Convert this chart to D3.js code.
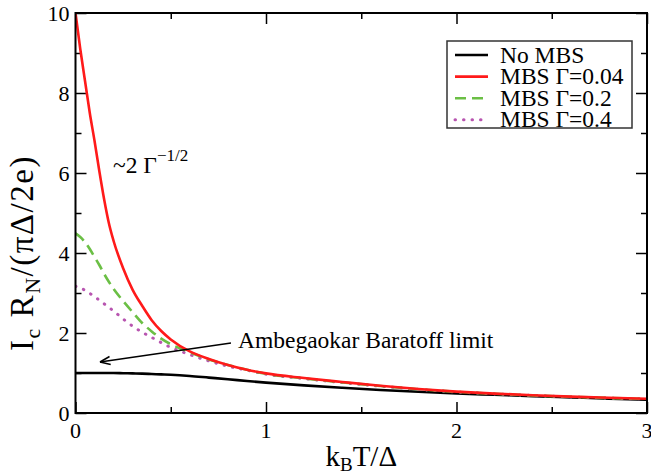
<!DOCTYPE html>
<html>
<head>
<meta charset="utf-8">
<script src="https://cdnjs.cloudflare.com/ajax/libs/d3/7.8.5/d3.min.js"></script>
<style>
body { margin: 0; background: #fff; }
svg { display: block; }
svg text { font-family: 'Liberation Serif', 'DejaVu Serif', serif; fill: #000; }
.tickLabel { font-size: 22px; }
.axisTitle { font-size: 29px; }
.legendText { font-size: 23.5px; }
.note { font-size: 23.5px; }
</style>
</head>
<body>
<div id="chart"></div>
<script>
// temperature grid k_B T / Delta
var kT = [0, 0.025, 0.05, 0.075, 0.1, 0.125, 0.15, 0.175, 0.2, 0.25, 0.3, 0.35, 0.4, 0.45, 0.5,
	0.6, 0.7, 0.8, 0.9, 1.0, 1.2, 1.4, 1.6, 1.8, 2.0, 2.2, 2.4, 2.6, 2.8, 3.0];

var noMBS = [1.0, 1.0, 1.0, 1.0, 1.0, 1.0, 1.0, 1.0, 1.0, 0.995, 0.99, 0.985, 0.975, 0.965, 0.955,
	0.925, 0.885, 0.845, 0.80, 0.76, 0.69, 0.63, 0.575, 0.53, 0.49, 0.455, 0.42, 0.39, 0.36, 0.335];

var mbs004 = [10.0, 9.1, 8.3, 7.5, 6.8, 6.05, 5.35, 4.75, 4.3, 3.62, 3.08, 2.68, 2.32, 2.05, 1.84,
	1.54, 1.35, 1.2, 1.08, 0.99, 0.875, 0.775, 0.68, 0.60, 0.535, 0.485, 0.445, 0.41, 0.38, 0.357];

var mbs02 = [4.49, 4.4, 4.27, 4.1, 3.9, 3.7, 3.48, 3.28, 3.1, 2.8, 2.52, 2.25, 2.04, 1.86, 1.72,
	1.52, 1.34, 1.2, 1.08, 0.98, 0.865, 0.765, 0.675, 0.595, 0.53, 0.48, 0.44, 0.405, 0.375, 0.352];

var mbs04 = [3.17, 3.12, 3.07, 2.99, 2.91, 2.82, 2.73, 2.64, 2.55, 2.35, 2.17, 2.02, 1.89, 1.76, 1.64,
	1.46, 1.3, 1.17, 1.07, 0.97, 0.86, 0.76, 0.67, 0.59, 0.527, 0.478, 0.438, 0.403, 0.373, 0.35];

var seriesNames = ["No MBS", "MBS \u0393=0.04", "MBS \u0393=0.2", "MBS \u0393=0.4"];
var seriesColors = ["#000000", "#ff1a1a", "#6bbf45", "#b855b0"];
var seriesDash = [null, null, "11,6", "0.5,8"];
var seriesValues = [noMBS, mbs004, mbs02, mbs04];

var xMajor = [0, 1, 2, 3];
var xMinor = [0.5, 1.5, 2.5];
var yMajor = [0, 2, 4, 6, 8, 10];
var yMinor = [1, 3, 5, 7, 9];

var dims = {top: 13, right: 4, bottom: 61, left: 75.5},
	width = 651 - dims.left - dims.right,
	height = 474 - dims.top - dims.bottom;

var svg = d3.select("#chart").append("svg")
	.attr("width", 651)
	.attr("height", 474)
	.append("g")
	.attr("transform", "translate(" + dims.left + "," + dims.top + ")");

var x = d3.scaleLinear().domain([0, 3]).range([0, width]);
var y = d3.scaleLinear().domain([0, 10]).range([height, 0]);

// ticks, pointing inward on all four sides
function tickSet(axisFn, scale, values, size){
	return axisFn(scale).tickValues(values).tickSizeInner(-size).tickSizeOuter(0).tickFormat("");
}
function styleAxis(g){
	g.select(".domain").remove();
	g.selectAll(".tick line").attr("stroke", "#000").attr("stroke-width", 1.5);
}
svg.append("g").attr("transform", "translate(0," + height + ")")
	.call(tickSet(d3.axisBottom, x, xMajor, 11)).call(styleAxis);
svg.append("g").attr("transform", "translate(0," + height + ")")
	.call(tickSet(d3.axisBottom, x, xMinor, 6)).call(styleAxis);
svg.append("g").call(tickSet(d3.axisTop, x, xMajor, 11)).call(styleAxis);
svg.append("g").call(tickSet(d3.axisTop, x, xMinor, 6)).call(styleAxis);
svg.append("g").call(tickSet(d3.axisLeft, y, yMajor, 11)).call(styleAxis);
svg.append("g").call(tickSet(d3.axisLeft, y, yMinor, 6)).call(styleAxis);
svg.append("g").attr("transform", "translate(" + width + ",0)")
	.call(tickSet(d3.axisRight, y, yMajor, 11)).call(styleAxis);
svg.append("g").attr("transform", "translate(" + width + ",0)")
	.call(tickSet(d3.axisRight, y, yMinor, 6)).call(styleAxis);

// tick labels
svg.selectAll(".xLabel")
	.data(xMajor)
	.enter().append("text")
	.attr("class", "tickLabel")
	.attr("x", function(d){ return x(d); })
	.attr("y", height + 25)
	.attr("text-anchor", "middle")
	.text(function(d){ return d; });

svg.selectAll(".yLabel")
	.data(yMajor)
	.enter().append("text")
	.attr("class", "tickLabel")
	.attr("x", -6)
	.attr("y", function(d){ return y(d) + 7.5; })
	.attr("text-anchor", "end")
	.text(function(d){ return d; });

// curves
var line = d3.line()
	.x(function(d){ return x(d[0]); })
	.y(function(d){ return y(d[1]); })
	.curve(d3.curveMonotoneX);

svg.append("defs").append("clipPath").attr("id", "plotClip")
	.append("rect").attr("width", width).attr("height", height + 1).attr("y", -1);

var drawOrder = [0, 3, 2, 1];
drawOrder.forEach(function(s){
	var pts = kT.map(function(t, i){ return [t, seriesValues[s][i]]; });
	svg.append("path")
		.datum(pts)
		.attr("clip-path", "url(#plotClip)")
		.attr("fill", "none")
		.attr("stroke", seriesColors[s])
		.attr("stroke-width", s == 3 ? 3 : 2.6)
		.attr("stroke-linecap", s == 3 ? "round" : "butt")
		.attr("stroke-dasharray", seriesDash[s])
		.attr("d", line);
});

// frame
svg.append("rect")
	.attr("width", width)
	.attr("height", height)
	.attr("fill", "none")
	.attr("stroke", "#000")
	.attr("stroke-width", 2);

// legend
var legend = svg.append("g").attr("transform", "translate(" + (447 - dims.left) + "," + (41 - dims.top) + ")");
legend.append("rect")
	.attr("width", 185)
	.attr("height", 87)
	.attr("fill", "#fff")
	.attr("stroke", "#333")
	.attr("stroke-width", 1.5);
var item = legend.selectAll(".legendItem")
	.data(seriesNames)
	.enter().append("g")
	.attr("class", "legendItem")
	.attr("transform", function(d, i){ return "translate(0," + (14 + i * 21.6) + ")"; });
item.append("line")
	.attr("x1", 8).attr("x2", 41)
	.attr("stroke", function(d, i){ return seriesColors[i]; })
	.attr("stroke-width", function(d, i){ return i == 3 ? 3 : 2.6; })
	.attr("stroke-linecap", function(d, i){ return i == 3 ? "round" : "butt"; })
	.attr("stroke-dasharray", function(d, i){ return seriesDash[i]; });
item.append("text")
	.attr("class", "legendText")
	.attr("x", 53)
	.attr("y", 7.5)
	.text(function(d){ return d; });

// annotations
var gammaNote = svg.append("text")
	.attr("class", "note")
	.attr("x", 113 - dims.left)
	.attr("y", 173 - dims.top);
gammaNote.append("tspan").text("~2 \u0393");
gammaNote.append("tspan").attr("dy", -12).style("font-size", "17px").text("\u22121/2");

svg.append("text")
	.attr("class", "note")
	.attr("x", 238 - dims.left)
	.attr("y", 348 - dims.top)
	.text("Ambegaokar Baratoff limit");

var arrowFrom = [231 - dims.left, 343 - dims.top],
	arrowTo = [100 - dims.left, 362 - dims.top];
svg.append("line")
	.attr("x1", arrowFrom[0]).attr("y1", arrowFrom[1])
	.attr("x2", arrowTo[0]).attr("y2", arrowTo[1])
	.attr("stroke", "#000").attr("stroke-width", 1.5);
var ang = Math.atan2(arrowFrom[1] - arrowTo[1], arrowFrom[0] - arrowTo[0]);
[-0.38, 0.38].forEach(function(da){
	svg.append("line")
		.attr("x1", arrowTo[0]).attr("y1", arrowTo[1])
		.attr("x2", arrowTo[0] + 11 * Math.cos(ang + da))
		.attr("y2", arrowTo[1] + 11 * Math.sin(ang + da))
		.attr("stroke", "#000").attr("stroke-width", 1.5);
});

// axis titles
var xTitle = svg.append("text")
	.attr("class", "axisTitle")
	.attr("x", width / 2)
	.attr("y", 466 - dims.top)
	.attr("text-anchor", "middle");
xTitle.append("tspan").text("k");
xTitle.append("tspan").attr("dy", 5).style("font-size", "19px").text("B");
xTitle.append("tspan").attr("dy", -5).text("T/\u0394");

var yTitle = svg.append("text")
	.attr("class", "axisTitle")
	.style("font-size", "33px")
	.style("letter-spacing", "1.5px")
	.attr("transform", "translate(" + (33 - dims.left) + "," + (253 - dims.top) + ") rotate(-90)")
	.attr("text-anchor", "middle");
yTitle.append("tspan").text("I");
yTitle.append("tspan").attr("dy", 7).style("font-size", "22px").text("c");
yTitle.append("tspan").attr("dy", -7).text(" R");
yTitle.append("tspan").attr("dy", 7).style("font-size", "22px").text("N");
yTitle.append("tspan").attr("dy", -7).text("/(\u03c0\u0394/2e)");
</script>
</body>
</html>
